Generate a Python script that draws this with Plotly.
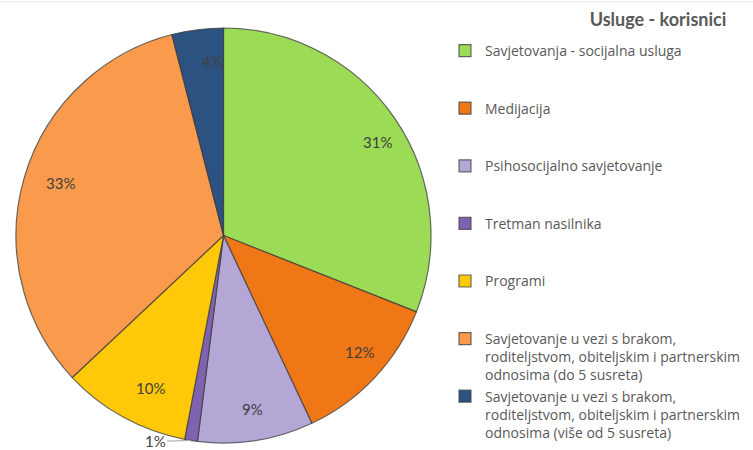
import numpy as np
import plotly.graph_objects as go

W, H = 753, 450

title_text = "Usluge - korisnici"
labels = [
    "Savjetovanja - socijalna usluga",
    "Medijacija",
    "Psihosocijalno savjetovanje",
    "Tretman nasilnika",
    "Programi",
    "Savjetovanje u vezi s brakom,<br>roditeljstvom, obiteljskim i partnerskim<br>odnosima (do 5 susreta)",
    "Savjetovanje u vezi s brakom,<br>roditeljstvom, obiteljskim i partnerskim<br>odnosima (više od 5 susreta)",
]
values = [31, 12, 9, 1, 10, 33, 4]
colors = ["#9BDB55", "#F07716", "#B4A6D5", "#7F63B0", "#FFC90A", "#F99A4C", "#2C5282"]

# pad single-line legend labels to three lines so legend spacing matches
legend_labels = [l if "<br>" in l else l + "<br> <br> " for l in labels]

# pie geometry (pixels)
cx, cy, R = 223.5, 235.5, 207.5
dom_x = [(cx - R) / W, (cx + R) / W]
dom_y = [1 - (cy + R) / H, 1 - (cy - R) / H]

fig = go.Figure(go.Pie(
    labels=legend_labels,
    values=values,
    sort=False,
    direction="clockwise",
    rotation=0,
    marker=dict(colors=colors, line=dict(color="rgba(60,60,60,0.75)", width=1.2)),
    textinfo="none",
    hoverinfo="label+percent",
    domain=dict(x=dom_x, y=dom_y),
))

# percentage labels placed at slice mid-angles
vals = np.array(values, dtype=float)
pct = vals / vals.sum()
cum = np.cumsum(pct)
mid = (cum - pct / 2) * 2 * np.pi
annotations = []
for i, (p, a) in enumerate(zip(pct, mid)):
    txt = f"{round(p * 100):.0f}%"
    if p < 0.02:
        px = cx + R * np.sin(a)
        py = cy - R * np.cos(a)
        annotations.append(dict(
            x=px / W, y=1 - py / H, xref="paper", yref="paper",
            text=txt, showarrow=True, arrowhead=0, arrowwidth=1,
            arrowcolor="#A6A6A6", ax=-36, ay=1,
            font=dict(family="Lato", size=15, color="#404040"),
        ))
    else:
        r = 0.9 * R
        px = cx + r * np.sin(a)
        py = cy - r * np.cos(a)
        annotations.append(dict(
            x=px / W, y=1 - py / H, xref="paper", yref="paper",
            text=txt, showarrow=False,
            font=dict(family="Lato", size=15, color="#404040"),
        ))

fig.update_layout(
    width=W, height=H,
    margin=dict(l=0, r=0, t=0, b=0),
    paper_bgcolor="white",
    plot_bgcolor="white",
    font=dict(family="Open Sans", color="#595959"),
    title=dict(
        text=f"<b>{title_text}</b>",
        x=658 / W, xanchor="center", xref="paper",
        y=1 - 20 / H, yanchor="middle", yref="paper",
        font=dict(family="Lato", size=18, color="#595959"),
    ),
    showlegend=True,
    legend=dict(
        x=445 / W, xanchor="left",
        y=1 - 35 / H, yanchor="top",
        font=dict(family="Open Sans", size=14, color="#595959"),
        valign="top",
        itemwidth=30,
        bgcolor="rgba(0,0,0,0)",
    ),
    annotations=annotations,
    shapes=[dict(type="line", xref="paper", yref="paper", x0=0, x1=1,
                 y0=1 - 2 / H, y1=1 - 2 / H, line=dict(color="#E6E6E6", width=1))],
)

fig.write_html(
    "out.html",
    config={"displayModeBar": False},
    post_script="document.body.style.margin='0px';document.body.style.overflow='hidden';",
)
